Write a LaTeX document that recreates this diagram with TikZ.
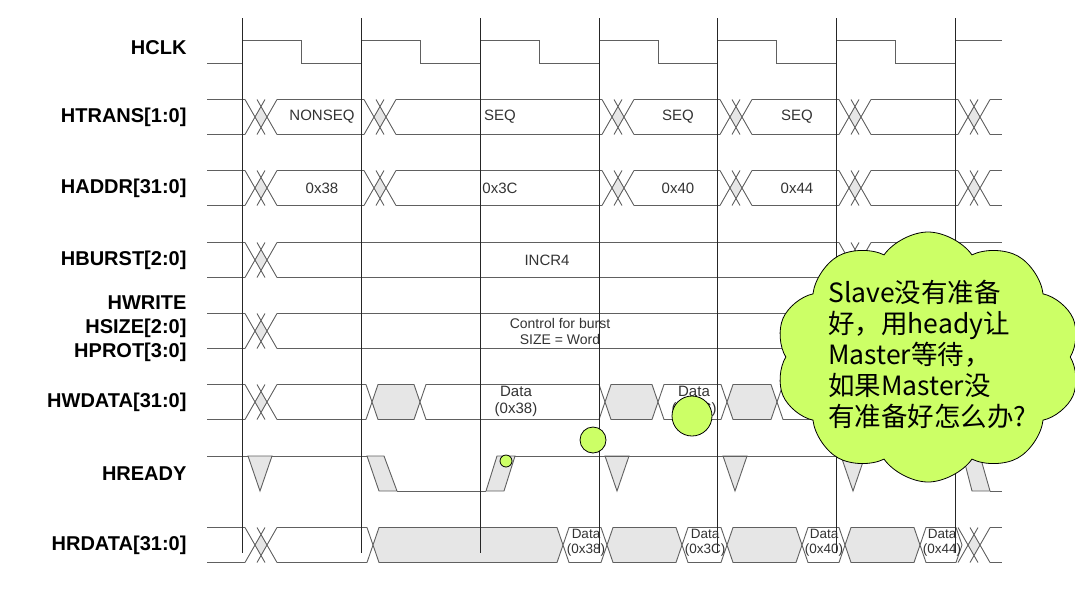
\documentclass[tikz,border=0pt]{standalone}
\usepackage{fontspec}
\setmainfont{Liberation Sans}
\newfontfamily\cjk{Noto Sans CJK SC}
\usetikzlibrary{shapes.symbols}
\definecolor{sig}{HTML}{606060}
\definecolor{sh}{HTML}{E6E6E6}
\definecolor{lime}{HTML}{CCFF66}
\begin{document}
\begin{tikzpicture}[x=1pt,y=-1pt,
  sl/.style={draw=sig,line width=0.9pt},
  lab/.style={font=\bfseries\fontsize{20}{24}\selectfont,anchor=east,align=right},
  val/.style={font=\fontsize{15}{17}\selectfont,align=center,text=black!80},
  bub/.style={draw=black,fill=lime,line width=0.8pt}]
\useasboundingbox (0,0) rectangle (1075,592);
\newcommand\dblx[2]{%
  \fill[sh] (#1+10,#2) -- (#1+16,#2-10.5) -- (#1+22,#2) -- (#1+16,#2+10.5) -- cycle;
  \draw[sl] (#1,#2-17.5) -- (#1+20,#2+17.5) (#1,#2+17.5) -- (#1+20,#2-17.5)
            (#1+12,#2-17.5) -- (#1+32,#2+17.5) (#1+12,#2+17.5) -- (#1+32,#2-17.5);}
\newcommand\hseg[4]{%
  \draw[sl,fill=#4] (#1,#3) -- (#1+6,#3-17.5) -- (#2-6,#3-17.5) -- (#2,#3) -- (#2-6,#3+17.5) -- (#1+6,#3+17.5) -- cycle;}
\newcommand\plainbus[2]{%
  \def\prev{207}%
  \foreach \t in {#2}{\draw[sl] (\prev,#1-17.5) -- (\t,#1-17.5) (\prev,#1+17.5) -- (\t,#1+17.5); \dblx{\t}{#1}\xdef\prev{\the\numexpr\t+32\relax}}%
  \draw[sl] (\prev,#1-17.5) -- (1002,#1-17.5) (\prev,#1+17.5) -- (1002,#1+17.5);}

% labels
\node[lab] (lclk) at (190,48) {HCLK};
\node[lab] (ltr) at (190,117) {HTRANS[1:0]};
\node[lab] (lad) at (190,188) {HADDR[31:0]};
\node[lab] (lbu) at (190,260) {HBURST[2:0]};
\node[lab] (lct) at (190,329) {HWRITE\\HSIZE[2:0]\\HPROT[3:0]};
\node[lab] (lwd) at (190,402) {HWDATA[31:0]};
\node[lab] (lrd) at (190,474) {HREADY};
\node[lab] (lrr) at (190,545) {HRDATA[31:0]};

% clock
\draw[sl] (207,63) -- (242,63)
  \foreach \e in {242,361,480,599,717,836}{ -- (\e,63) -- (\e,40) -- (\e+59,40) -- (\e+59,63)} -- (955,63) -- (955,40) -- (1002,40);

% buses
\plainbus{117}{245,364,602,720,839,958}
\plainbus{188}{245,364,602,720,839,958}
\plainbus{260}{245,839}
\plainbus{331}{245,839}
\node[val] (t1) at (322,117) {NONSEQ};
\node[val] (t2) at (500,117) {SEQ};
\node[val] (t3) at (678,117) {SEQ};
\node[val] (t4) at (797,117) {SEQ};
\node[val] (a1) at (322,188) {0x38};
\node[val] (a2) at (500,188) {0x3C};
\node[val] (a3) at (678,188) {0x40};
\node[val] (a4) at (797,188) {0x44};
\node[val] (b1) at (547,260) {INCR4};
\node[val,font=\fontsize{14}{16}\selectfont] (c1) at (560,331) {Control for burst\\SIZE = Word};

% HWDATA
\draw[sl] (207,384.5) -- (245,384.5) (207,419.5) -- (245,419.5);
\dblx{245}{402}
\draw[sl] (277,384.5) -- (366,384.5) (277,419.5) -- (366,419.5) (366,384.5) -- (372,402) -- (366,419.5);
\hseg{372}{420}{402}{sh}
\hseg{420}{605}{402}{white}
\hseg{605}{658}{402}{sh}
\hseg{658}{727}{402}{white}
\hseg{727}{777}{402}{sh}
\draw[sl] (783,384.5) -- (1002,384.5) (777,402) -- (783,384.5) (777,402) -- (783,419.5) -- (1002,419.5);
\node[val] (w1) at (516,401) {Data\\(0x38)};
\node[val] (w2) at (694,401) {Data\\(0x3C)};

% HRDATA
\draw[sl] (207,527.5) -- (245,527.5) (207,562.5) -- (245,562.5);
\dblx{245}{545}
\draw[sl] (277,527.5) -- (367,527.5) (277,562.5) -- (367,562.5) (367,527.5) -- (373,545) -- (367,562.5);
\hseg{373}{563}{545}{sh}
\hseg{563}{607}{545}{white}
\hseg{607}{682}{545}{sh}
\hseg{682}{727}{545}{white}
\hseg{727}{802}{545}{sh}
\hseg{802}{845}{545}{white}
\hseg{845}{920}{545}{sh}
\hseg{920}{962}{545}{white}
\dblx{958}{545}
\draw[sl] (990,527.5) -- (1002,527.5) (990,562.5) -- (1002,562.5);
\node[val,font=\fontsize{13.5}{15}\selectfont] (r1) at (586,543) {Data\\(0x38)};
\node[val,font=\fontsize{13.5}{15}\selectfont] (r2) at (705,543) {Data\\(0x3C)};
\node[val,font=\fontsize{13.5}{15}\selectfont] (r3) at (824,543) {Data\\(0x40)};
\node[val,font=\fontsize{13.5}{15}\selectfont] (r4) at (942,543) {Data\\(0x44)};

% HREADY
\draw[sl] (207,456) -- (367,456);
\foreach \c in {260,617,735,853}{\draw[sl,fill=sh] (\c-12,456) -- (\c,491) -- (\c+12,456) -- cycle;}
\draw[sl,fill=sh] (367,456) -- (384,456) -- (397,491) -- (379,491) -- cycle;
\draw[sl] (397,491) -- (486,491);
\draw[sl,fill=sh] (486,491) -- (504,491) -- (515,456) -- (497,456) -- cycle;
\draw[sl] (515,456) -- (963,456);
\draw[sl,fill=sh] (963,456) -- (980,456) -- (990,491) -- (972,491) -- cycle;
\draw[sl] (990,491) -- (1002,491);

% clock edge lines
\foreach \e in {242,361,480,599,717,836,955}{\draw[black!85,line width=0.8pt] (\e,18) -- (\e,553);}

% thought bubbles
\node[bub,circle,minimum size=12pt,inner sep=0pt] (p1) at (506,461) {};
\node[bub,circle,minimum size=26pt,inner sep=0pt] (p2) at (593,440) {};
\node[bub,circle,minimum size=40pt,inner sep=0pt] (p3) at (692,416) {};
\node[cloud,cloud puffs=10,cloud puff arc=110,aspect=1.25,draw=black,fill=lime,line width=0.8pt,
  minimum width=305pt,minimum height=250pt,inner sep=0pt] (cl) at (928,357) {};
\node[font=\cjk\fontsize{26.5}{31}\selectfont,align=left,anchor=north west,inner sep=0pt] (ct) at (828,280)
 {Slave没有准备\\好，用heady让\\Master等待，\\如果Master没\\有准备好怎么办?};
\end{tikzpicture}
\end{document}
